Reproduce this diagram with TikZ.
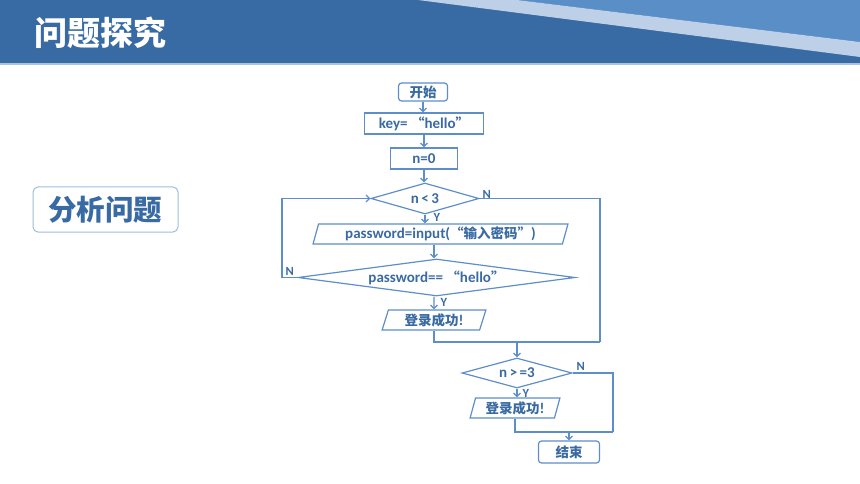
\documentclass[tikz,border=0pt]{standalone}
\usepackage{fontspec}
\setmainfont{Carlito}
\newfontfamily\cjk{Noto Sans CJK SC}
\newfontfamily\cjksmall[Scale=0.9]{Noto Sans CJK SC}
\usetikzlibrary{shapes.geometric,arrows.meta}

\definecolor{hdrdark}{HTML}{386AA3}
\definecolor{hdrmid}{HTML}{5A8EC7}
\definecolor{hdrlight}{HTML}{BDD0E8}
\definecolor{flowline}{HTML}{5E8ECA}
\definecolor{flowtext}{HTML}{3A6AA2}

\newcommand{\zh}[1]{{\cjksmall\bfseries #1}}

\tikzset{
  base/.style={draw=flowline, line width=1.2pt, text=flowtext, inner sep=0pt,
               font=\fontsize{15}{17}\selectfont\bfseries},
  box/.style={base, rectangle},
  term/.style={base, rectangle, rounded corners=3pt},
  decision/.style={base, diamond},
  io/.style={base, trapezium, trapezium left angle=73, trapezium right angle=107,
             trapezium stretches=true},
  line/.style={draw=flowline, line width=1.2pt},
  flow/.style={line, -{Straight Barb[length=3.5pt,width=7pt]}},
  lbl/.style={text=flowtext, font=\fontsize{12.5}{13}\selectfont\bfseries, inner sep=0.5pt}
}

\begin{document}
\begin{tikzpicture}[x=1pt, y=-1pt]

    \useasboundingbox (0,0) rectangle (860,484);

    % Header band
    \fill[hdrdark] (0,0) rectangle (860,63);
    \fill[hdrmid] (517,0) -- (860,0) -- (860,42) -- cycle;
    \fill[hdrlight] (418,0) -- (517,0) -- (860,42) -- (860,57) -- cycle;
    \draw[hdrlight!80!hdrmid, line width=1.5pt] (0,64) -- (860,64);
    \node[anchor=west, text=white, font=\cjk\bfseries\fontsize{33}{35}\selectfont, inner sep=0pt]
        (title) at (34,33) {问题探究};

    % Side label
    \node[draw=hdrlight!70!hdrmid, line width=1pt, rounded corners=5pt,
          minimum width=145, minimum height=45, text=hdrdark,
          font=\cjk\bfseries\fontsize{28.5}{30}\selectfont] (topic) at (105.5,209.5) {分析问题};

    % Flowchart nodes
    \node[term, minimum width=49, minimum height=18] (start) at (423,92) {\zh{开始}};
    \node[box, minimum width=119, minimum height=21] (key) at (424,123.5) {key= \zh{“}hello\zh{”}};
    \node[box, minimum width=67, minimum height=21] (init) at (424,158.5) {n=0};
    \node[decision, aspect=3.5, minimum width=108, minimum height=31] (cond1) at (425,198.5) {n\,<\,3};
    \node[io, minimum width=255, minimum height=20] (input) at (440.5,234)
        {password=input(\zh{“输入密码”})};
    \node[decision, aspect=7.5, minimum width=277, minimum height=37] (check) at (436.5,277.5)
        {password== \zh{“}hello\zh{”}};
    \node[io, minimum width=104, minimum height=20] (ok1) at (434,320) {\zh{登录成功}!};
    \node[decision, aspect=3.7, minimum width=110, minimum height=30] (cond2) at (517,373) {n\,>\,=3};
    \node[io, minimum width=90, minimum height=20] (ok2) at (515,408) {\zh{登录成功}!};
    \node[term, minimum width=61, minimum height=22] (stop) at (569,452) {\zh{结束}};

    % Corner points of the loops
    \coordinate (l1) at (282,240);
    \coordinate (r1) at (600,342);
    \coordinate (r2) at (613,432);

    % Straight connectors
    \draw[flow] (start.south) -- (start.south |- key.north);
    \draw[flow] (key.south) -- (key.south |- init.north);
    \draw[flow] (init.south) -- (init.south |- cond1.north);
    \draw[flow] (cond1.south) -- (cond1.south |- input.north);
    \draw[flow] (ok1 |- input.south) -- (ok1 |- check.north);
    \draw[flow] (ok1 |- check.south) -- (ok1.north);
    \draw[flow] (cond2.south) -- (cond2.south |- ok2.north);

    % Loops and exits
    \draw[flow] (check.west) -| (l1) |- (cond1.west);
    \draw[line] (cond1.east) -| (r1);
    \draw[line] (ok1.south) |- (r1);
    \draw[flow] (r1 -| cond2) -- (cond2.north);
    \draw[line] (cond2.east) -| (r2);
    \draw[line] (ok2.south) |- (r2);
    \draw[flow] (r2 -| stop) -- (stop.north);

    % Y / N labels
    \node[lbl, anchor=west] (y1) at (433,217) {Y};
    \node[lbl, anchor=west] (n1) at (482,194) {N};
    \node[lbl, anchor=west] (n2) at (285,271) {N};
    \node[lbl, anchor=west] (y2) at (440,302) {Y};
    \node[lbl, anchor=west] (y3) at (522,393) {Y};
    \node[lbl, anchor=west] (n3) at (576,366) {N};

\end{tikzpicture}
\end{document}
